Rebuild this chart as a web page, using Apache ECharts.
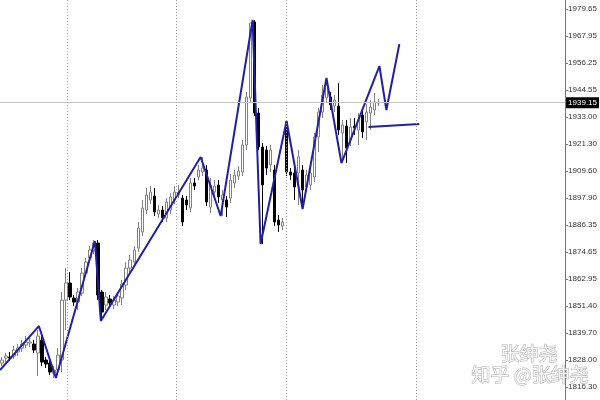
<!DOCTYPE html>
<html><head><meta charset="utf-8">
<script src="https://cdn.jsdelivr.net/npm/echarts@6/dist/echarts.min.js"></script>
<style>html,body{margin:0;padding:0;background:#fff}#c{width:600px;height:400px}</style>
</head><body><div id="c"></div>
<script>
const slotCount = 141;
const opens  = [1826.65,1828.81,1829.24,1829.68,1831.41,1833.13,1834.43,1835.30,1834.86,1830.97,
                1836.59,1827.95,1826.65,1822.33,1823.63,1827.95,1853.88,1861.23,1854.74,1853.02,
                1856.91,1865.55,1872.03,1875.49,1878.52,1857.34,1851.72,1854.31,1851.72,1853.02,
                1854.74,1860.36,1867.71,1870.30,1876.35,1883.27,1892.78,1897.10,1898.83,1891.05,
                1892.78,1889.32,1892.78,1897.10,1899.26,1897.96,1897.10,1893.64,1904.45,1907.04,
                1909.20,1910.07,1894.07,1900.56,1903.58,1897.10,1897.10,1897.96,1904.45,1907.47,
                1909.20,1920.87,1941.18,1974.03,1934.70,1920.01,1918.71,1912.23,1910.07,1888.46,
                1885.86,1930.81,1909.20,1908.77,1908.77,1910.07,1902.72,1903.58,1907.04,1924.33,
                1935.13,1941.18,1941.62,1937.73,1937.73,1926.06,1929.08,1923.03,1929.08,1927.35,
                1933.84,1930.81,1934.70,1936.00,1939.02];
const closes = [1827.95,1829.68,1828.81,1832.27,1833.13,1834.86,1835.73,1835.73,1832.27,1838.32,
                1827.08,1826.22,1822.76,1823.63,1830.11,1853.88,1861.23,1855.18,1853.02,1857.34,
                1865.55,1870.30,1875.49,1878.52,1856.04,1848.69,1855.18,1852.58,1853.88,1855.61,
                1860.80,1867.71,1871.17,1875.49,1885.00,1893.64,1899.26,1900.56,1891.91,1892.78,
                1889.32,1896.24,1898.40,1900.56,1900.56,1887.59,1894.94,1904.45,1903.15,1910.07,
                1910.93,1896.24,1903.58,1903.15,1898.40,1899.26,1894.07,1905.74,1907.90,1909.63,
                1920.87,1941.62,1973.60,1934.70,1920.01,1903.58,1910.93,1918.71,1887.59,1886.29,
                1887.59,1909.20,1907.90,1902.72,1915.68,1901.42,1907.90,1908.77,1924.33,1935.13,
                1942.48,1946.80,1938.16,1940.32,1927.35,1929.51,1919.57,1928.65,1928.22,1931.68,
                1926.49,1935.13,1937.29,1939.46,1939.15];
const lows   = [1825.35,1827.08,1827.52,1828.38,1829.68,1831.41,1833.13,1833.57,1830.97,1821.03,
                1825.35,1824.49,1821.46,1820.17,1821.90,1822.76,1840.91,1853.88,1851.29,1849.56,
                1855.61,1863.82,1870.30,1873.76,1853.88,1845.24,1849.56,1850.85,1849.99,1851.29,
                1851.72,1858.20,1865.98,1868.57,1874.63,1881.54,1891.05,1895.37,1890.18,1889.32,
                1887.59,1887.59,1891.05,1895.37,1897.96,1885.86,1892.78,1891.91,1901.42,1905.74,
                1907.47,1894.51,1891.48,1898.83,1895.80,1890.18,1889.75,1895.80,1902.29,1905.74,
                1907.47,1918.71,1939.46,1933.40,1918.71,1878.08,1907.90,1909.20,1885.86,1883.27,
                1884.13,1907.47,1905.74,1897.10,1894.94,1893.21,1900.56,1901.42,1904.88,1917.85,
                1932.54,1939.46,1936.00,1935.13,1925.19,1914.39,1913.09,1920.44,1925.19,1920.87,
                1923.90,1923.03,1927.35,1933.84,1937.73];
const highs  = [1829.24,1830.97,1831.41,1834.00,1834.86,1836.59,1838.32,1837.46,1836.59,1840.91,
                1838.32,1829.24,1827.95,1825.35,1833.13,1857.34,1867.71,1865.98,1856.04,1859.07,
                1867.71,1872.03,1877.22,1879.81,1879.81,1858.20,1857.34,1856.04,1855.61,1857.34,
                1862.52,1870.30,1873.33,1877.22,1887.59,1897.10,1902.29,1903.15,1902.29,1894.94,
                1894.51,1897.96,1900.13,1903.15,1903.58,1899.26,1898.83,1906.61,1906.61,1912.23,
                1915.68,1912.23,1906.61,1905.74,1905.74,1901.42,1898.83,1908.34,1910.07,1911.79,
                1923.03,1943.78,1973.60,1974.90,1936.86,1921.74,1920.44,1920.87,1912.23,1890.62,
                1889.32,1931.24,1910.93,1910.93,1918.71,1912.23,1910.07,1910.93,1926.06,1936.86,
                1946.80,1949.83,1943.78,1942.48,1947.67,1931.68,1931.68,1932.54,1932.54,1934.70,
                1936.00,1938.59,1940.32,1943.35,1940.75];
const zigzagBars   = [-0.5, 9.2, 13.45, 23.17, 24.66, 49.57, 54.56, 62.53, 64.52, 71.0, 75.0, 80.96, 84.7, 94.17, 95.91, 99.15];
const zigzagPrices = [1823.63, 1842.64, 1820.17, 1879.38, 1844.80, 1915.68, 1890.18, 1974.90, 1878.08, 1931.24, 1893.21, 1949.83, 1913.09, 1955.01, 1936.00, 1964.52];
const projBars   = [91.43, 104.13];
const projPrices = [1928.65, 1929.95];
const gridBars = [16.37, 43.5, 70.9, 103.3];
const priceTicks = [1816.30, 1828.00, 1839.70, 1851.40, 1862.95, 1874.65, 1886.35, 1897.90,
                    1909.60, 1921.30, 1933.00, 1944.55, 1956.25, 1967.95, 1979.65];
const currentPrice = 1939.15;
const yMin = 1810.68, yMax = 1983.54;
const categories = Array.from({length: slotCount}, (_, i) => 'B' + i);

const candleData = opens.map((o, i) => [o, closes[i], lows[i], highs[i]]);
const zigData = zigzagBars.map((b, i) => [b, zigzagPrices[i]]);
const projData = projBars.map((b, i) => [b, projPrices[i]]);

const chart = echarts.init(document.getElementById('c'), null, {renderer: 'canvas'});
const blue = '#2020a6';
chart.setOption({
  animation: false,
  backgroundColor: '#ffffff',
  grid: {left: 0, right: 34, top: 0, bottom: 0, containLabel: false},
  xAxis: [
    {type: 'category', data: categories, boundaryGap: true, show: false},
    {type: 'value', min: -0.5, max: slotCount - 0.5, show: false, axisLine: {onZero: false}}
  ],
  yAxis: {
    type: 'value', position: 'right', min: yMin, max: yMax, scale: true,
    axisLine: {show: true, onZero: false, lineStyle: {color: '#777', width: 1}},
    axisTick: {show: true, length: 3, inside: false, customValues: priceTicks, lineStyle: {color: '#777'}},
    axisLabel: {show: true, customValues: priceTicks, margin: 3, fontSize: 8,
      fontFamily: 'Liberation Sans, Arial, sans-serif', color: '#333',
      formatter: v => Number(v).toFixed(2)},
    splitLine: {show: false}
  },
  series: [
    {
      type: 'candlestick', xAxisIndex: 0, data: candleData, barWidth: 3,
      itemStyle: {color: '#ffffff', color0: '#000000', borderColor: '#808080', borderColor0: '#000000', borderWidth: 1},
      markLine: {
        silent: true, symbol: ['none', 'none'], animation: false,
        lineStyle: {color: '#c4c4c4', type: 'solid', width: 1},
        label: {show: true, position: 'end', distance: 1, formatter: () => currentPrice.toFixed(2),
          backgroundColor: '#000', color: '#fff', fontSize: 8, padding: [2, 2, 1, 2],
          fontFamily: 'Liberation Sans, Arial, sans-serif'},
        data: [{yAxis: currentPrice}]
      },
      z: 3
    },
    {
      type: 'line', xAxisIndex: 1, data: zigData, symbol: 'none', silent: true,
      lineStyle: {color: blue, width: 2}, z: 4,
      markLine: {
        silent: true, symbol: ['none', 'none'], animation: false, label: {show: false},
        lineStyle: {color: '#a0a0a0', type: [1, 2], width: 1},
        data: gridBars.map(b => ({xAxis: b}))
      }
    },
    {
      type: 'line', xAxisIndex: 1, data: projData, symbol: 'none', silent: true,
      lineStyle: {color: blue, width: 2}, z: 4
    }
  ],
  graphic: [
    {type: 'text', left: 500, top: 344, z: 100, silent: true,
     style: {text: '张绅尧', font: '19px "Noto Sans CJK SC"', fill: 'rgba(255,255,255,0.85)', stroke: '#b0b0b0', lineWidth: 1}},
    {type: 'text', left: 471, top: 365, z: 100, silent: true,
     style: {text: '知乎 @张绅尧', font: '19px "Noto Sans CJK SC"', fill: 'rgba(255,255,255,0.85)', stroke: '#b0b0b0', lineWidth: 1}}
  ]
});
</script></body></html>
